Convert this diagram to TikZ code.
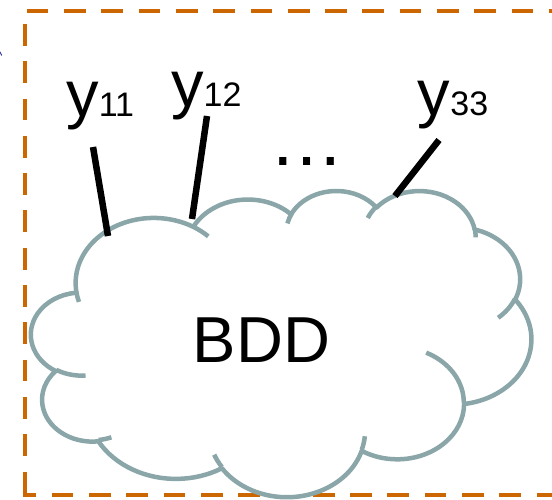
\documentclass[tikz,border=0pt]{standalone}
\usepackage{fontspec}
\setmainfont{Liberation Sans}
\definecolor{frameorange}{RGB}{204,102,0}
\definecolor{cloudgray}{RGB}{138,166,168}
\definecolor{markblue}{RGB}{60,60,160}

% Builds an elliptical arc segment of the cloud outline.
% #1,#2: radii; #3: start angle, #4: sweep (geometric angles, y downwards)
\newcommand\cldpath{}
\newcommand\cldarc[4]{%
  \pgfmathsetmacro\cldA{atan2((#1)*sin(#3),(#2)*cos(#3))}%
  \pgfmathsetmacro\cldB{atan2((#1)*sin((#3)+(#4)),(#2)*cos((#3)+(#4)))}%
  \pgfmathsetmacro\cldD{mod(\cldB-\cldA+720,360)}%
  \xdef\cldpath{\cldpath arc[start angle=\cldA, delta angle=\cldD, x radius=#1, y radius=#2]}%
}
% Inner curl of the cloud: start point, radii, start angle, sweep
\newcommand\cldtail[6]{%
  \gdef\cldpath{}\cldarc{#3}{#4}{#5}{#6}%
  \draw[cloudline] (#1,#2) \cldpath;%
}
\newcommand\smalldigits[1]{{\fontsize{34}{40}\selectfont #1}}

\begin{document}
\begin{tikzpicture}[x=1pt,y=-1pt,
  frameedge/.style={draw=frameorange, line width=4.4pt, dash pattern=on 21.7pt off 15.6pt},
  cloudline/.style={draw=cloudgray, line width=4.5pt, line join=round},
  stem/.style={draw=black, line width=6.5pt},
  lbl/.style={anchor=base west, inner sep=0pt, font=\fontsize{65}{78}\selectfont}]
\useasboundingbox (0,0) rectangle (552,500);

% dashed frame, one edge at a time
\draw[frameedge, dash phase=35.3pt] (24.7,11) -- (556,11);
\draw[frameedge, dash phase=24.3pt] (24.7,11) -- (24.7,495);
\draw[frameedge, dash phase=8.1pt] (22.5,495) -- (556,495);
\draw[frameedge, dash phase=33.3pt] (553.8,11) -- (553.8,495);

% stray pen mark at the left border
\draw[markblue, line width=1pt] (-0.5,51.2) -- (1.8,55.5);

% the cloud, in a 432 x 432 unit frame
\begin{scope}[shift={(31.2,190)}, x=1.1574pt, y=-0.7086pt]
  \gdef\cldpath{}
  \cldarc{67.53}{91.90}{-190.4875}{123.7805}
  \cldarc{53.33}{72.67}{-144.1024}{89.9452}
  \cldarc{43.65}{59.45}{-145.8079}{99.7230}
  \cldarc{48.57}{65.95}{-130.9861}{117.2417}
  \cldarc{53.33}{72.73}{-78.7089}{109.0269}
  \cldarc{67.75}{92.20}{-46.2673}{130.2690}
  \cldarc{57.85}{78.67}{0.6250}{114.0333}
  \cldarc{67.52}{92.15}{22.4516}{115.1726}
  \cldarc{77.20}{105.43}{66.2426}{75.7110}
  \cldarc{43.60}{59.18}{-274.9421}{146.7356}
  \cldarc{43.45}{59.45}{-246.8285}{152.5189}
  \path[cloudline, fill=white] (39.00,143.70) \cldpath -- cycle;

  \cldtail{46.93}{261.77}{43.45}{59.45}{86.7420}{26.4295}
  \cldtail{69.28}{348.99}{43.60}{59.18}{73.6105}{11.4475}
  \cldtail{164.78}{390.90}{67.52}{92.15}{137.6242}{14.0811}
  \cldtail{288.27}{347.51}{67.52}{92.15}{6.4533}{15.9984}
  \cldtail{341.29}{229.54}{57.85}{78.67}{-70.2924}{70.9174}
  \cldtail{417.98}{153.54}{53.33}{72.73}{30.3180}{27.7515}
  \cldtail{383.24}{54.26}{48.57}{65.95}{-13.7443}{14.8589}
  \cldtail{290.78}{39.52}{48.57}{65.95}{-149.1815}{18.1954}
  \cldtail{221.41}{47.20}{43.65}{59.45}{-163.4943}{17.6864}
  \cldtail{140.00}{51.92}{67.53}{91.90}{-66.7070}{12.3194}
  \cldtail{41.27}{157.89}{67.53}{91.90}{157.6544}{11.8582}
\end{scope}

\node[anchor=base, inner sep=0pt, font=\fontsize{65}{78}\selectfont] (bdd) at (261.5,362) {BDD};

% variable labels
\node[lbl] (y11) at (66.1,117) {y\smalldigits{11}};
\node[lbl] (y12) at (171,107) {y\smalldigits{12}};
\node[lbl] (y33) at (417.7,115.5) {y\smalldigits{33}};
\node[anchor=base, inner sep=0pt, font=\fontsize{75}{90}\selectfont] (dots) at (307,166) {…};

% stems from the labels down to the cloud
\coordinate (s11a) at (93,147);  \coordinate (s11b) at (108,236);
\coordinate (s12a) at (207,116); \coordinate (s12b) at (192,219);
\coordinate (s33a) at (439,140); \coordinate (s33b) at (395,196);
\draw[stem] (s11a) -- (s11b);
\draw[stem] (s12a) -- (s12b);
\draw[stem] (s33a) -- (s33b);
\end{tikzpicture}
\end{document}
